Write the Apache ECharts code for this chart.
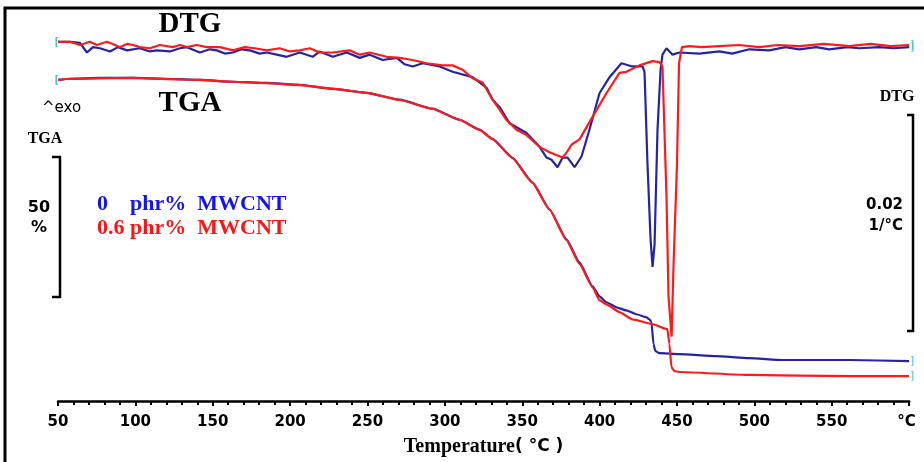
<!DOCTYPE html>
<html><head><meta charset="utf-8">
<script src="https://cdn.jsdelivr.net/npm/echarts@6/dist/echarts.min.js"></script>
<style>html,body{margin:0;padding:0;background:#fff}#c{width:924px;height:462px}</style>
</head><body><div id="c"></div>
<script>
// Temperature axis ticks (°C); last tick labelled with the unit
const xTicks = [50,100,150,200,250,300,350,400,450,500,550,600];
const seriesNames = ['0    phr%  MWCNT', '0.6 phr%  MWCNT'];

// DTG (×10⁻³ 1/°C), [temperature, value]
const blueDTG = [[50,0.2],[57.7,0.2],[64.2,0.1],[68.7,-0.8],[72.6,-0.3],[77.1,-0.4],[83.6,-0.7],[88.7,-0.3],[94.5,-0.6],[102.9,-0.4],[109.4,-0.7],[113.9,-0.6],[122.3,-0.7],[128.8,-0.4],[133.3,-0.3],[141.7,-0.8],[148.1,-0.5],[152.6,-0.6],[157.8,-0.9],[163,-0.8],[168.8,-0.5],[173.9,-0.6],[180.4,-0.9],[184.9,-0.8],[191.4,-1.0],[197.8,-1.2],[206.2,-0.8],[214.6,-1.2],[219.1,-0.7],[227.5,-1.2],[236.6,-0.8],[245,-1.3],[251.4,-1.0],[259.8,-1.5],[268.9,-1.3],[274,-1.9],[279.2,-2.1],[285.7,-1.8],[296.6,-2.1],[305,-2.6],[317.9,-3.1],[327,-4.1],[330.8,-5.2],[335.4,-5.9],[341.8,-7.4],[352.8,-8.3],[361.2,-9.6],[365.7,-10.6],[368.9,-10.8],[372.8,-11.5],[376.1,-10.6],[379.3,-10.6],[383.8,-11.5],[388.3,-10.5],[393.4,-8.0],[399.9,-4.6],[406.4,-3.1],[414.1,-1.8],[421.2,-2.1],[427.7,-2.1],[429.0,-2.6],[430.9,-11.1],[432.9,-18.2],[434.2,-20.8],[435.5,-18.7],[437.4,-8.0],[439.4,-2.4],[440.6,-1.0],[443.2,-0.4],[447.1,-1.0],[451.6,-0.8],[464.4,-0.9],[477.3,-0.7],[485.7,-0.9],[496.7,-0.5],[509.6,-0.6],[520,-0.3],[529,-0.5],[540,-0.3],[548.3,-0.5],[560,-0.3],[567.7,-0.4],[580.6,-0.3],[590,-0.4],[600,-0.3]];
const redDTG = [[50,0.2],[57.7,0.2],[64.2,-0.1],[70.7,0.2],[75.2,-0.1],[81.6,0.2],[85.5,0],[90,-0.3],[94.5,0],[98.4,-0.1],[102.9,-0.3],[109.4,-0.4],[115.8,-0.1],[124.2,-0.3],[128.8,-0.1],[133.3,-0.3],[139.7,-0.1],[146.2,-0.3],[154.6,-0.3],[163,-0.6],[170.7,-0.3],[177.2,-0.4],[184.9,-0.6],[193.3,-0.4],[199.8,-0.7],[206.2,-0.6],[212.7,-0.4],[219.1,-0.8],[227.5,-0.8],[238.5,-0.6],[245,-1.0],[251.4,-0.8],[262.4,-1.2],[270.8,-1.3],[279.2,-1.5],[288.2,-1.8],[298.5,-2.0],[305,-2.0],[311.4,-2.4],[317.9,-3.2],[324.4,-3.6],[330.8,-5.2],[335.3,-6.1],[339.8,-7.1],[346.3,-8.0],[352.8,-8.5],[361.2,-9.6],[367.6,-10.1],[376,-10.6],[379.3,-10.0],[381.8,-9.4],[387,-8.9],[395.4,-6.8],[404.4,-4.6],[412.8,-2.7],[417.3,-2.6],[425.7,-2.0],[434.2,-1.6],[438.7,-1.7],[440.6,-2.1],[443.2,-14.2],[444.5,-23.5],[446.5,-27.3],[447.8,-20.4],[450,-11.1],[451.3,-1.8],[453.2,-0.3],[458,-0.2],[466,-0.3],[477.3,-0.2],[490,-0.1],[503.2,-0.3],[515,-0.1],[529,-0.2],[545,0],[561.3,-0.2],[575,0],[588,-0.2],[600,-0.1]];

// TGA (mass %), [temperature, value]
const blueTGA = [[50,99.3],[57.7,99.7],[77.1,100],[98.4,100],[120.4,99.7],[141.7,99.3],[163,98.7],[184.9,98.3],[206.2,97.7],[227.5,96.3],[249.5,95],[270.8,92.7],[292.1,89.7],[309.5,86],[322.4,82.7],[330.8,79.6],[343.7,73.3],[356.6,65],[367.6,56],[378.6,46],[387,38.3],[395.4,30.3],[399.9,27],[404.4,25],[410.9,23.3],[417.3,22.3],[423.8,21],[430.2,20],[432.2,19.3],[433.5,18.3],[434.8,11],[436,8.7],[438.6,8],[451.5,7.7],[475.4,7],[496.7,6.3],[518,5.7],[561.3,5.7],[600,5.3]];
const redTGA = [[50,99.3],[57.7,99.7],[77.1,99.8],[98.4,100],[120.4,99.6],[141.7,99.3],[163,98.7],[184.9,98.2],[206.2,97.6],[227.5,96.4],[249.5,95],[270.8,92.6],[292.1,89.6],[309.5,86],[322.4,82.6],[330.8,79.5],[343.7,73.2],[356.6,65],[367.6,56],[378.6,45.8],[387,37.8],[395.4,30],[399.9,25.7],[404.4,24.3],[412.8,21.7],[421.2,19.3],[434.2,17.7],[443.8,16],[445.1,11],[446.4,3.3],[448.3,2],[451.5,1.7],[496.7,0.7],[561.3,0.3],[600,0.3]];

const BLUE = '#2424a8', RED = '#ff1a1a';
const chart = echarts.init(document.getElementById('c'));

function ends(data){
  return {
    symbol:'circle', symbolSize:0, silent:true, animation:false,
    label:{show:true, color:'#3cc4c4', fontSize:11, fontFamily:'DejaVu Sans'},
    data:[
      {coord:data[0], label:{formatter:'[', offset:[-1,0]}},
      {coord:data[data.length-1], label:{formatter:']', offset:[3,0]}}
    ]
  };
}
function line(name, data, color, yi, smooth){
  return {name, type:'line', data, yAxisIndex:yi, showSymbol:false, symbol:'none',
    smooth: smooth, smoothMonotone:'x', lineStyle:{color, width:2.2}, itemStyle:{color},
    markPoint: ends(data), z:2};
}

const serif = '"Liberation Serif","Times New Roman",serif';
const sans = '"DejaVu Sans",Verdana,sans-serif';
function txt(text, x, y, font, align, color){
  return {type:'text', x, y, silent:true, style:{text, font, fill:color||'#000', textAlign:align||'center', textVerticalAlign:'middle'}};
}

chart.setOption({
  animation:false,
  backgroundColor:'#fff',
  grid:{left:58, right:12, top:30, bottom:60, containLabel:false},
  legend:{
    orient:'vertical', left:92, top:193, padding:0, itemGap:2, icon:'none', itemWidth:0, itemHeight:20,
    selectedMode:false,
    textStyle:{fontFamily:serif, fontWeight:'bold', fontSize:22},
    data:[
      {name:seriesNames[0], textStyle:{color:'#1414f0'}},
      {name:seriesNames[1], textStyle:{color:'#ff1414'}}
    ]
  },
  xAxis:{
    type:'value', min:xTicks[0], max:xTicks[xTicks.length-1], interval:50,
    axisLine:{show:true, onZero:false, lineStyle:{color:'#000', width:2.5}},
    axisTick:{show:true, length:5, lineStyle:{color:'#000', width:2}},
    minorTick:{show:true, splitNumber:5, length:4, lineStyle:{color:'#000', width:2}},
    splitLine:{show:false},
    axisLabel:{margin:14, color:'#000', fontFamily:sans, fontWeight:'bold', fontSize:15,
      showMinLabel:true, showMaxLabel:true,
      formatter:v => v === xTicks[xTicks.length-1] ? '°C ' : String(v)},
    name:'{a|Temperature}{b|( °C )}', nameLocation:'middle', nameGap:36,
    nameTextStyle:{rich:{
      a:{fontFamily:serif, fontWeight:'bold', fontSize:20, color:'#000'},
      b:{fontFamily:sans, fontWeight:'bold', fontSize:17, color:'#000'}
    }}
  },
  yAxis:[
    {type:'value', min:-8, max:116, show:false, splitLine:{show:false}},
    {type:'value', min:-33.305, max:1.3, show:false, splitLine:{show:false}}
  ],
  series:[
    line(seriesNames[0], blueDTG, BLUE, 1, false),
    line(seriesNames[0], blueTGA, BLUE, 0, 0.15),
    line(seriesNames[1], redDTG, RED, 1, false),
    line(seriesNames[1], redTGA, RED, 0, 0.15)
  ],
  graphic:[
    {type:'polyline', silent:true, shape:{points:[[5,462],[5,8],[924,8]]}, style:{stroke:'#000', lineWidth:3, fill:null}},
    {type:'polyline', silent:true, shape:{points:[[52,157],[60,157],[60,297],[52,297]]}, style:{stroke:'#000', lineWidth:2.5, fill:null}},
    {type:'polyline', silent:true, shape:{points:[[907,115],[913,115],[913,331],[907,331]]}, style:{stroke:'#000', lineWidth:2.5, fill:null}},
    txt('DTG', 190, 25, 'bold 29px '+serif),
    txt('TGA', 190, 104, 'bold 29px '+serif),
    txt('^exo', 42, 108, '15px '+sans, 'left'),
    txt('TGA', 45, 139, 'bold 16px '+serif),
    txt('50', 39, 208, 'bold 16px '+sans),
    txt('%', 39, 228, 'bold 16px '+sans),
    txt('DTG', 897, 97, 'bold 16px '+serif),
    txt('0.02', 903, 205, 'bold 15px '+sans, 'right'),
    txt('1/°C', 903, 226, 'bold 15px '+sans, 'right')
  ]
});
</script></body></html>
